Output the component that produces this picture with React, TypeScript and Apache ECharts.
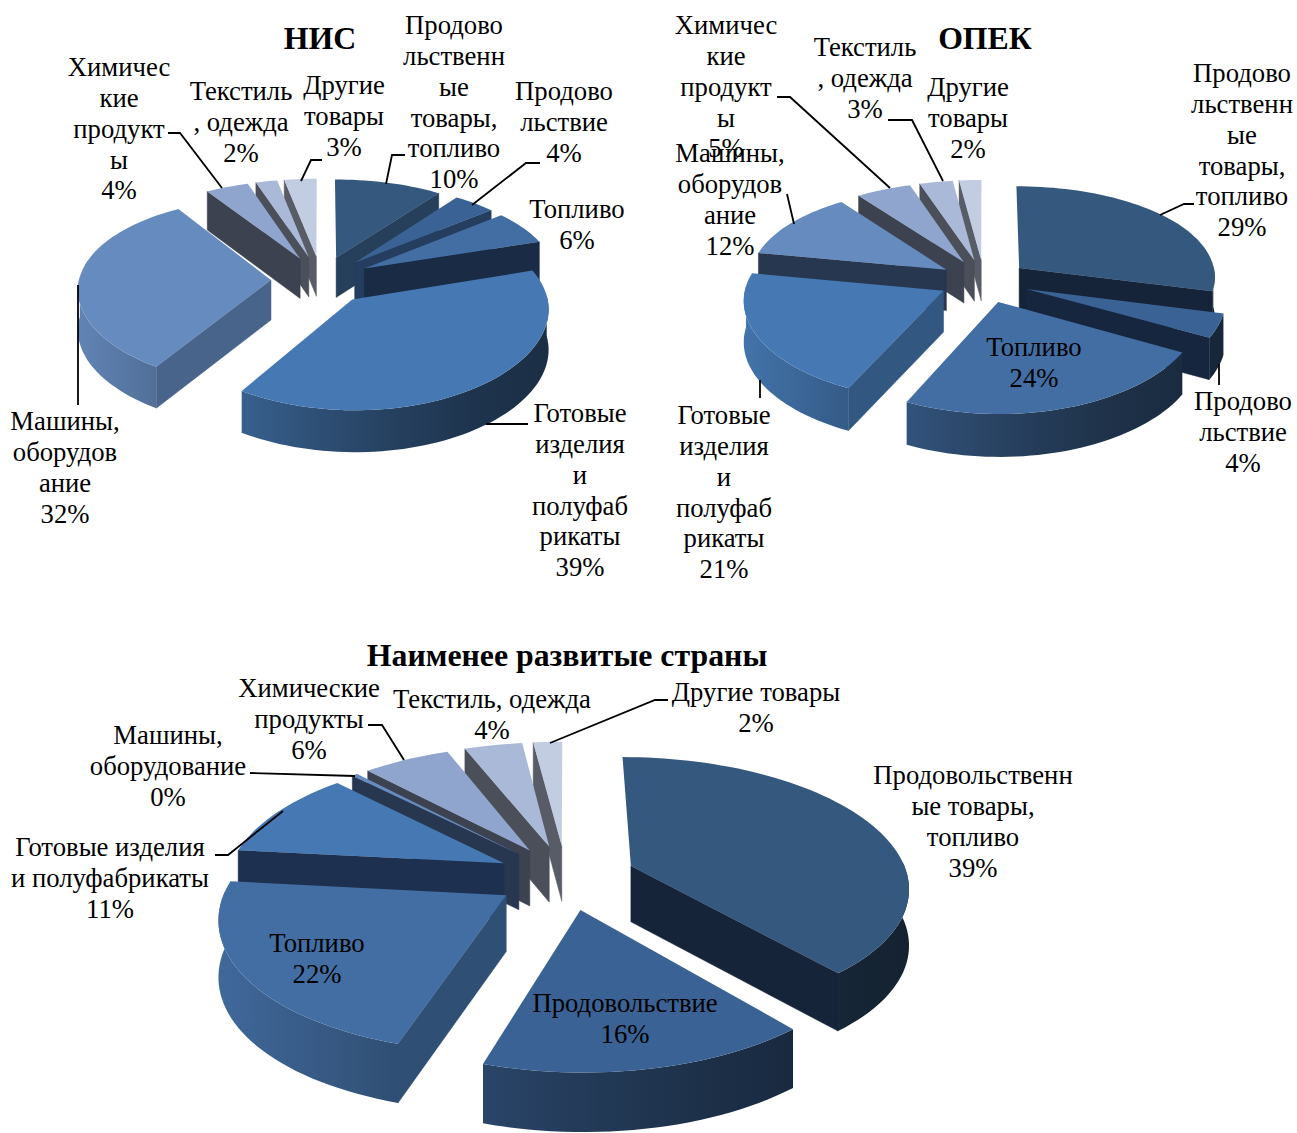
import React, { useEffect, useRef } from "react";
import * as echarts from "echarts";

// ---- data ----
const titles = ["НИС", "ОПЕК", "Наименее развитые страны"];
const nisValues = [10, 4, 6, 39, 32, 4, 2, 3];
const opekValues = [29, 4, 24, 21, 12, 5, 3, 2];
const ldcValues = [39, 16, 22, 11, 0.4, 6, 4, 2];

const nisNames = [
  ["Продово", "льственн", "ые", "товары,", "топливо"],
  ["Продово", "льствие"],
  ["Топливо"],
  ["Готовые", "изделия", "и", "полуфаб", "рикаты"],
  ["Машины,", "оборудов", "ание"],
  ["Химичес", "кие", "продукт", "ы"],
  ["Текстиль", ", одежда"],
  ["Другие", "товары"],
];
const opekNames = [
  ["Продово", "льственн", "ые", "товары,", "топливо"],
  ["Продово", "льствие"],
  ["Топливо"],
  ["Готовые", "изделия", "и", "полуфаб", "рикаты"],
  ["Машины,", "оборудов", "ание"],
  ["Химичес", "кие", "продукт", "ы"],
  ["Текстиль", ", одежда"],
  ["Другие", "товары"],
];
const ldcNames = [
  ["Продовольственн", "ые товары,", "топливо"],
  ["Продовольствие"],
  ["Топливо"],
  ["Готовые изделия", "и полуфабрикаты"],
  ["Машины,", "оборудование"],
  ["Химические", "продукты"],
  ["Текстиль, одежда"],
  ["Другие товары"],
];

// ---- styles and layout ----
const topColors = ["#35587f", "#3b6294", "#436ea3", "#4679b3", "#668bbf", "#8fa5cd", "#aab9d8", "#c3cde2"];
const darkColors = ["#16243a", "#17263f", "#1a2b45", "#1e3050", "#283750", "#3c4250", "#4a4f5a", "#585c66"];

const geometry = [
  { cx: 321, cy: 280, R: 192, t: 0.482, py: 0.119, px: 0.085, e: 50, D: 40 },
  { cx: 984, cy: 281, R: 197, t: 0.477, py: 0.115, px: 0.085, e: 45, D: 41 },
  { cx: 566, cy: 877, R: 277, t: 0.462, py: 0.147, px: 0.15, e: 70, D: 56 },
];

const titlePos = [[320, 38], [985, 38], [567, 655]];
const labelPos = [
  [[454, 25.2], [564, 91.2], [577, 209.2], [580, 413.2], [65, 421.2], [119, 67.2], [241, 91.2], [344, 85.2]],
  [[1242, 73.2], [1243, 401.2], [1034, 347.2], [724, 415.2], [730, 153.2], [726, 25.2], [865, 47.2], [968, 87.2]],
  [[973, 775.2], [625, 1003.2], [317, 943.2], [110, 847.2], [168, 735.2], [309, 688.2], [492, 699.2], [756, 692.2]],
];
const leaders = [
  [[386, 184], [392, 155], [405, 155]],
  [[472, 205], [526, 163], [540, 163]],
  [[486, 424], [528, 424]],
  [[78, 285], [78, 405]],
  [[168, 133], [180, 133], [222, 188]],
  [[301, 181], [311, 160], [322, 160]],
  [[1160, 215], [1184, 204], [1194, 204]],
  [[1219, 364], [1219, 385]],
  [[760, 380], [760, 398]],
  [[794, 224], [787, 194]],
  [[890, 188], [790, 97], [777, 97]],
  [[943, 181], [912, 120], [888, 120]],
  [[404, 760], [382, 725], [368, 725]],
  [[250, 773], [355, 776]],
  [[283, 811], [228, 855], [215, 855]],
  [[550, 743], [655, 700], [668, 700]],
];

const FONT = '"Liberation Serif", "Times New Roman", serif';
const LABEL_SIZE = 26.7;
const LINE_H = 30.8;

function parseHex(c: string) {
  return [1, 3, 5].map((i) => parseInt(c.slice(i, i + 2), 16));
}
function toHex(rgb: number[]) {
  return "#" + rgb.map((v) => Math.round(Math.max(0, Math.min(255, v))).toString(16).padStart(2, "0")).join("");
}
function scaleColor(c: string, f: number) {
  return toHex(parseHex(c).map((v) => v * f));
}
function mixColor(a: string, b: string, t: number) {
  const A = parseHex(a);
  const B = parseHex(b);
  return toHex(A.map((v, i) => v + (B[i] - v) * t));
}
// brightness of the outer wall as a function of the sideways part of its normal
function arcFactor(u: number) {
  const xs = [-1, -0.5, 0, 0.5, 1];
  const fs = [0.95, 0.78, 0.6, 0.45, 0.38];
  for (let i = 0; i < 4; i++) {
    if (u <= xs[i + 1]) return fs[i] + ((fs[i + 1] - fs[i]) * (u - xs[i])) / (xs[i + 1] - xs[i]);
  }
  return fs[4];
}

function makeRender(values: number[], g: (typeof geometry)[0]) {
  const total = values.reduce((a, b) => a + b, 0);
  const angles: number[] = [0];
  values.forEach((v, i) => angles.push(angles[i] + (v / total) * Math.PI * 2));
  const proj = (u: number, v: number) => {
    const sx = 1 / (1 - g.px * v);
    const sy = 1 / (1 - g.py * v);
    return { x: g.cx + g.R * u * sx, y: g.cy + g.R * g.t * v * sy, d: g.D * Math.pow(sy, 0.3) };
  };
  return (_params: any, api: any) => {
    const i = api.value(0);
    const a0 = angles[i];
    const a1 = angles[i + 1];
    const mid = (a0 + a1) / 2;
    const eu = (Math.sin(mid) * g.e) / g.R;
    const ev = (-Math.cos(mid) * g.e) / g.R;
    const at = (a: number, r: number) => proj(Math.sin(a) * r + eu, -Math.cos(a) * r + ev);
    const apex = at(0, 0);
    const arc: { p: any; a: number }[] = [];
    const n = Math.max(2, Math.ceil((a1 - a0) / (Math.PI / 90)));
    for (let k = 0; k <= n; k++) {
      const a = a0 + ((a1 - a0) * k) / n;
      arc.push({ p: at(a, 1), a });
    }
    const children: any[] = [];
    const top = scaleColor(topColors[i], 1);
    const dark = darkColors[i];
    const light = scaleColor(topColors[i], 0.72);
    const radial = (a: number, nu: number, nv: number) => {
      if (nv <= 0) return;
      const p = at(a, 1);
      const t = Math.max(0, Math.min(1, (nu - 0.35) / 0.4));
      const fill = mixColor(dark, light, t);
      children.push({
        type: "polygon",
        shape: { points: [[apex.x, apex.y], [p.x, p.y], [p.x, p.y + p.d], [apex.x, apex.y + apex.d]] },
        style: { fill, stroke: fill, lineWidth: 0.5 },
      });
    };
    // side faces of the cut: the normal points out of the slice
    radial(a0, Math.sin(a0 - Math.PI / 2), -Math.cos(a0 - Math.PI / 2));
    radial(a1, Math.sin(a1 + Math.PI / 2), -Math.cos(a1 + Math.PI / 2));
    // outer wall
    const front = arc.filter((q) => -Math.cos(q.a) > -0.05);
    if (front.length > 1) {
      const pts = front.map((q) => [q.p.x, q.p.y]).concat(front.slice().reverse().map((q) => [q.p.x, q.p.y + q.p.d]));
      const us = front.map((q) => Math.sin(q.a));
      const uMin = Math.min(...us);
      const uMax = Math.max(...us);
      const stops = [0, 0.25, 0.5, 0.75, 1].map((o) => ({
        offset: o,
        color: scaleColor(topColors[i], arcFactor(uMin + (uMax - uMin) * o)),
      }));
      children.push({
        type: "polygon",
        shape: { points: pts },
        style: { fill: new echarts.graphic.LinearGradient(0, 0, 1, 0, stops) },
      });
    }
    // top
    children.push({
      type: "polygon",
      shape: { points: [[apex.x, apex.y], ...arc.map((q) => [q.p.x, q.p.y])] },
      style: { fill: top },
    });
    return { type: "group", children };
  };
}

function makeSeries(values: number[], g: (typeof geometry)[0]) {
  const total = values.reduce((a, b) => a + b, 0);
  let acc = 0;
  const depth = values.map((v) => {
    const mid = ((acc + v / 2) / total) * Math.PI * 2;
    acc += v;
    return -Math.cos(mid);
  });
  const order = values.map((_, i) => i).sort((a, b) => depth[a] - depth[b]);
  return {
    type: "custom",
    coordinateSystem: "none",
    silent: true,
    renderItem: makeRender(values, g),
    data: order.map((i) => [i, values[i]]),
  };
}

export default function App() {
  const ref = useRef<HTMLDivElement>(null);
  useEffect(() => {
    const chart = echarts.init(ref.current!, undefined, { renderer: "svg" });
    const sets = [
      { values: nisValues, names: nisNames },
      { values: opekValues, names: opekNames },
      { values: ldcValues, names: ldcNames },
    ];
    const elements: any[] = [];
    titles.forEach((t, i) => {
      elements.push({
        type: "text",
        z: 100,
        x: titlePos[i][0],
        y: titlePos[i][1],
        style: {
          text: t,
          font: `bold 31.8px ${FONT}`,
          fill: "#000",
          textAlign: "center",
          textVerticalAlign: "middle",
        },
      });
    });
    sets.forEach((set, s) => {
      set.names.forEach((lines, i) => {
        const text = [...lines, `${Math.round(set.values[i])}%`].join("\n");
        elements.push({
          type: "text",
          z: 100,
          x: labelPos[s][i][0],
          y: labelPos[s][i][1] - LINE_H / 2,
          style: {
            text,
            font: `${LABEL_SIZE}px ${FONT}`,
            lineHeight: LINE_H,
            fill: "#000",
            textAlign: "center",
            textVerticalAlign: "top",
          },
        });
      });
    });
    leaders.forEach((pts) => {
      elements.push({
        type: "polyline",
        z: 90,
        shape: { points: pts },
        style: { stroke: "#000", lineWidth: 1.8, fill: "none" },
      });
    });
    chart.setOption({
      animation: false,
      backgroundColor: "#ffffff",
      graphic: { elements },
      series: sets.map((set, s) => makeSeries(set.values, geometry[s])),
    });
    return () => chart.dispose();
  }, []);
  return <div ref={ref} style={{ position: "absolute", left: 0, top: 0, width: 1297, height: 1133 }} />;
}
